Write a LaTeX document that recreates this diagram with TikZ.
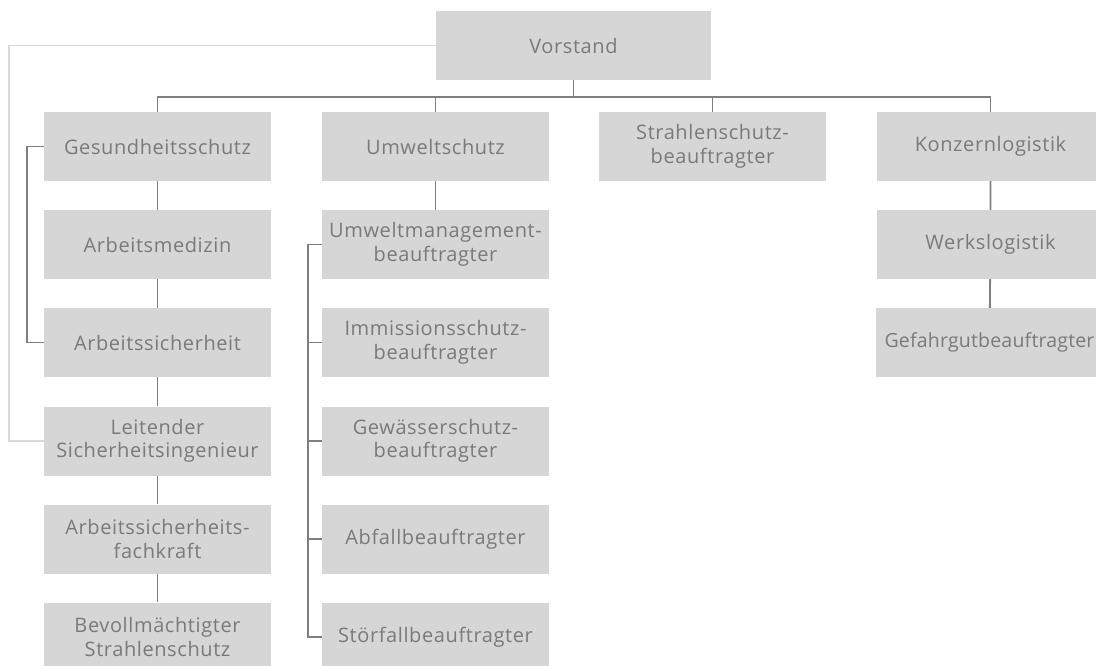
\documentclass[tikz,border=0pt]{standalone}
\usepackage{fontspec}
\setmainfont[LetterSpace=3]{Open Sans}
\definecolor{boxgray}{HTML}{D6D6D6}
\definecolor{linegray}{HTML}{7F7F7F}
\definecolor{framegray}{HTML}{D9D9D9}
\definecolor{textgray}{HTML}{7A7A7A}
\tikzset{
  unit/.style={fill=boxgray, text=textgray, align=center, inner sep=0pt,
    minimum width=227pt, minimum height=69pt,
    font=\fontsize{20}{23.5}\selectfont},
  link/.style={draw=linegray, line width=1.8pt},
  staff/.style={draw=framegray, line width=1.8pt},
}
\begin{document}
\begin{tikzpicture}[x=1pt, y=-1pt]
  \useasboundingbox (0,0) rectangle (1096,665);
  \clip (0,0) rectangle (1096,665);
  % Board
  \node[unit, minimum width=275pt] (vor) at (573.5,45.5) {Vorstand};
  % First level
  \node[unit] (ges) at (157.5,146.5) {Gesundheitsschutz};
  \node[unit] (umw) at (435.5,146.5) {Umweltschutz};
  \node[unit] (srb) at (712.5,146.5) {Strahlenschutz-\\beauftragter};
  \node[unit] (kon) at (990.5,146.5) {Konzernlogistik};
  % Health column
  \node[unit] (amd) at (157.5,244.5) {Arbeitsmedizin};
  \node[unit] (asi) at (157.5,342.5) {Arbeitssicherheit};
  \node[unit] (lsi) at (157.5,441) {Leitender\\Sicherheitsingenieur};
  \node[unit] (afk) at (157.5,539) {Arbeitssicherheits-\\fachkraft};
  \node[unit] (bss) at (157.5,637) {Bevollmächtigter\\Strahlenschutz};
  % Environment column
  \node[unit] (uma) at (435.5,244.5) {Umweltmanagement-\\beauftragter};
  \node[unit] (ims) at (435.5,342.5) {Immissionsschutz-\\beauftragter};
  \node[unit] (gws) at (435.5,441) {Gewässerschutz-\\beauftragter};
  \node[unit] (abf) at (435.5,539) {Abfallbeauftragter};
  \node[unit] (stf) at (435.5,637) {Störfallbeauftragter};
  % Logistics column
  \node[unit] (wlg) at (990.5,244.5) {Werkslogistik};
  \node[unit, font=\fontsize{19.5}{23.5}\selectfont\addfontfeatures{LetterSpace=1}]
    (gfb) at (989.5,342.5) {Gefahrgutbeauftragter};
  % Bus below the board
  \coordinate (bus) at (0,97);
  \coordinate (frame) at (9,0);
  \draw[link] (vor.south) -- (vor.south |- bus);
  \draw[link] (ges.north) -- (ges.north |- bus) -- (kon.north |- bus) -- (kon.north);
  \draw[link] (umw.north) -- (umw.north |- bus);
  \draw[link] (srb.north) -- (srb.north |- bus);
  % Vertical chains
  \draw[link] (ges) -- (amd) -- (asi) -- (lsi) -- (afk) -- (bss);
  \draw[link] (umw) -- (uma);
  \draw[link] (kon) -- (wlg) -- (gfb);
  % Side brackets
  \draw[link] (ges.west) -- ++(-17,0) |- (asi.west);
  \draw[link] (uma.west) -- ++(-14,0) |- (stf.west);
  \foreach \n in {ims, gws, abf} {
    \draw[link] (\n.west) -- ++(-14,0);
  }
  % Staff line to the board
  \draw[staff] (vor.west) -- (vor.west -| frame) |- (lsi.west);
\end{tikzpicture}
\end{document}
